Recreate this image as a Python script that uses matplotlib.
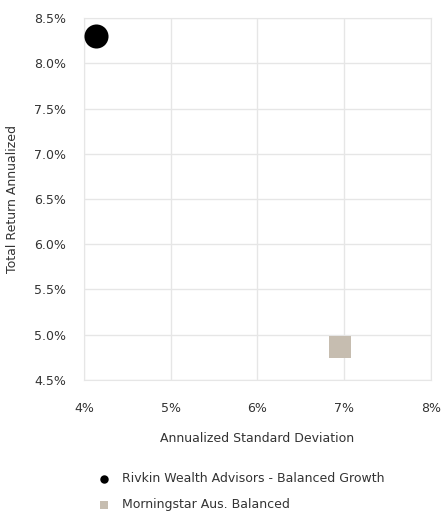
import matplotlib.pyplot as plt
from matplotlib.ticker import FuncFormatter

# Data
names = ['Rivkin Wealth Advisors - Balanced Growth', 'Morningstar Aus. Balanced']
std_dev = [4.14, 6.95]
total_return = [8.30, 4.86]
colors = ['#000000', '#c6bdb0']
markers = ['o', 's']
sizes = [300, 250]

fig = plt.figure(figsize=(4.46, 5.21), dpi=100)
ax = fig.add_axes([0.188, 0.271, 0.778, 0.694])

for n, x, y, c, m, s in zip(names, std_dev, total_return, colors, markers, sizes):
    ax.scatter(x, y, s=s, c=c, marker=m, label=n, zorder=3, linewidths=0)

ax.set_xlim(4, 8)
ax.set_ylim(4.5, 8.5)
ax.set_xticks([4, 5, 6, 7, 8])
ax.set_yticks([4.5, 5.0, 5.5, 6.0, 6.5, 7.0, 7.5, 8.0, 8.5])
ax.xaxis.set_major_formatter(FuncFormatter(lambda v, p: f'{v:.0f}%'))
ax.yaxis.set_major_formatter(FuncFormatter(lambda v, p: f'{v:.1f}%'))
ax.grid(True, color='#e6e6e6', linewidth=1)
ax.set_axisbelow(True)
for sp in ax.spines.values():
    sp.set_color('#e6e6e6')
ax.tick_params(axis='both', length=0, labelsize=9, colors='#333333')
ax.tick_params(axis='x', pad=16)
ax.tick_params(axis='y', pad=13)

ax.set_xlabel('Annualized Standard Deviation', fontsize=9, color='#333333', labelpad=12)
ax.set_ylabel('Total Return Annualized', fontsize=9, color='#333333', labelpad=11)

leg = fig.legend(loc='upper left', bbox_to_anchor=(0.18, 0.115), frameon=False,
                 fontsize=9, labelspacing=1.0, handletextpad=0.4,
                 markerscale=0.35, labelcolor='#333333')

fig.savefig('out.png', dpi=100)
